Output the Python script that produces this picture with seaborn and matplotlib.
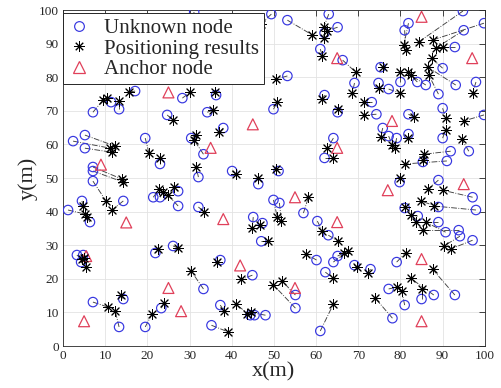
import matplotlib
matplotlib.use("Agg")
import matplotlib.pyplot as plt
from matplotlib.lines import Line2D
import seaborn as sns

# unknown nodes (true positions)
unknown_x = [7.1, 11.4, 13.3, 17.1, 24.7, 28.3, 36.3, 34.2, 31.1, 49.4, 53.2, 63.0, 65.1, 62.0, 61.0,
             66.3, 53.2, 69.1, 74.8, 49.9, 62.0, 65.1, 74.3, 73.2, 75.3, 94.8, 99.8, 95.0, 81.9, 81.0,
             92.9, 90.0, 80.0, 84.0, 86.0, 93.1, 89.0, 97.9, 77.2, 90.0, 81.9, 99.8, 75.8, 77.2, 79.1,
             81.9, 90.0, 96.2, 91.9, 85.3, 91.0, 79.8, 89.0, 97.1, 89.0, 97.9, 81.0, 84.1, 89.0, 90.7,
             93.8, 94.1, 97.1, 79.1, 92.9, 87.9, 85.0, 77.2, 81.0, 78.1, 64.1, 62.0, 51.1, 57.0, 49.9,
             51.3, 60.3, 62.9, 60.1, 64.1, 65.1, 62.2, 69.1, 72.9, 55.1, 55.1, 61.0, 38.0, 30.4, 33.3,
             32.1, 40.1, 46.3, 27.3, 27.3, 32.1, 45.1, 47.3, 2.4, 5.2, 5.2, 19.5, 23.0, 7.1, 7.1,
             7.1, 14.3, 1.2, 4.5, 6.4, 21.4, 23.0, 3.3, 4.8, 4.3, 21.9, 26.1, 7.1, 13.3, 14.3,
             19.5, 23.3, 47.0, 37.3, 44.9, 33.3, 37.3, 44.4, 45.4, 48.0, 35.2]
unknown_y = [69.6, 72.6, 70.5, 75.9, 68.8, 73.8, 74.7, 69.6, 99.4, 98.8, 97.0, 98.8, 94.9, 93.2, 88.4,
             85.1, 80.4, 78.3, 78.3, 70.5, 74.7, 69.6, 69.0, 72.6, 83.0, 99.7, 96.1, 94.0, 96.1, 94.0,
             89.0, 82.7, 78.6, 78.6, 77.7, 77.7, 75.0, 78.6, 76.5, 70.8, 69.0, 68.8, 64.9, 62.5, 61.9,
             63.1, 61.9, 58.0, 58.0, 54.8, 55.1, 48.8, 49.4, 44.3, 41.4, 40.5, 41.1, 38.7, 36.9, 33.9,
             34.5, 32.7, 31.5, 25.0, 15.2, 15.2, 14.0, 17.0, 12.2, 8.3, 61.9, 56.0, 52.1, 39.6, 43.5,
             42.6, 37.2, 33.0, 25.6, 25.0, 26.8, 22.0, 24.1, 22.9, 15.2, 11.3, 4.5, 64.9, 61.9, 57.1,
             50.3, 52.1, 48.2, 46.1, 41.7, 41.4, 38.4, 36.6, 61.0, 62.8, 58.9, 61.9, 54.2, 53.3, 52.1,
             49.1, 43.2, 40.5, 43.2, 36.9, 44.3, 44.3, 27.1, 27.1, 25.0, 27.7, 29.8, 13.1, 5.7, 14.0,
             5.7, 11.3, 31.2, 25.6, 21.1, 17.0, 12.2, 9.2, 9.2, 9.2, 6.2]

# positioning results (estimated positions), same order as unknown nodes
est_x = [9.5, 10.5, 13.3, 15.7, 26.0, 30.2, 36.1, 35.6, 30.0, 47.0, 59.1, 61.8, 62.5, 61.8, 61.5,
         69.4, 50.6, 68.6, 74.8, 50.8, 61.5, 65.1, 71.3, 71.3, 75.8, 84.3, 87.6, 88.4, 80.8, 81.2,
         90.0, 87.4, 80.0, 81.7, 82.4, 86.5, 86.7, 97.1, 79.8, 90.7, 83.1, 95.0, 75.3, 78.1, 78.6,
         81.9, 90.7, 94.5, 85.5, 85.3, 81.0, 79.8, 86.5, 90.0, 84.8, 87.9, 81.0, 82.4, 83.8, 86.0,
         85.3, 90.3, 91.9, 81.2, 87.6, 82.4, 85.0, 79.3, 80.3, 74.0, 62.7, 64.1, 50.4, 58.2, 50.8,
         51.8, 61.5, 65.3, 57.7, 66.7, 67.5, 64.1, 69.6, 72.2, 52.0, 49.9, 64.1, 37.1, 31.6, 31.1,
         31.6, 40.9, 46.3, 26.4, 24.9, 33.5, 44.9, 46.8, 11.2, 12.4, 11.6, 20.4, 23.0, 14.0, 14.3,
         10.2, 11.6, 5.2, 4.8, 5.7, 22.8, 23.8, 4.5, 5.0, 5.5, 22.6, 27.3, 10.7, 12.4, 13.8,
         21.1, 24.0, 48.5, 36.6, 42.3, 30.4, 38.2, 40.9, 43.7, 44.5, 39.2]
est_y = [73.2, 73.8, 72.9, 75.6, 67.3, 75.6, 75.6, 70.2, 96.0, 96.0, 92.6, 94.9, 93.8, 91.7, 86.3,
         81.5, 79.5, 75.3, 76.8, 72.6, 73.5, 70.5, 68.8, 72.6, 83.0, 90.5, 91.1, 88.7, 89.6, 88.1,
         89.0, 85.7, 81.5, 81.5, 80.7, 83.0, 80.7, 75.3, 75.3, 67.9, 68.2, 67.0, 62.3, 59.8, 58.9,
         61.9, 64.3, 61.6, 57.1, 55.4, 54.2, 50.0, 46.7, 46.4, 43.2, 41.7, 41.4, 39.0, 36.9, 36.9,
         34.5, 29.8, 28.9, 27.7, 22.9, 20.2, 17.0, 17.6, 16.4, 14.3, 58.9, 56.0, 52.7, 44.3, 38.4,
         37.2, 34.2, 31.2, 27.4, 27.7, 28.3, 20.2, 23.5, 21.7, 19.3, 18.2, 12.5, 63.7, 62.8, 61.3,
         53.3, 51.2, 50.0, 47.3, 44.9, 39.9, 35.1, 36.0, 58.9, 59.5, 57.7, 57.4, 56.0, 49.7, 48.8,
         43.2, 40.5, 39.3, 41.6, 38.4, 46.7, 45.8, 25.8, 26.2, 23.5, 28.9, 29.2, 11.6, 10.4, 15.2,
         9.5, 12.8, 31.2, 25.0, 19.9, 22.3, 10.4, 12.5, 9.5, 10.0, 4.2]

# anchor nodes
anchor_x = [85, 97, 65, 25, 45, 78, 9, 35, 65, 15, 38, 55, 65, 95, 77, 5.5, 25, 5, 42, 28, 55, 85, 85]
anchor_y = [98, 85.7, 85.7, 75.5, 66, 67, 54, 59, 59, 36.8, 37.8, 44.3, 36.9, 48.2, 46.4, 26.8,
            17.3, 7.4, 24, 10.4, 17.3, 25.9, 7.4]

sns.set_style("white")
plt.rcParams['font.family'] = ['Liberation Serif', 'DejaVu Serif']

fig = plt.figure(figsize=(5.01, 3.88), dpi=100)
ax = fig.add_axes([0.1257, 0.108, 0.842, 0.866])

# dash-dot links between true and estimated positions
for ux, uy, ex, ey in zip(unknown_x, unknown_y, est_x, est_y):
    ax.plot([ux, ex], [uy, ey], ls='-.', color='#404040', lw=0.65, zorder=2)

blue = '#3636e0'
red = '#e0405a'
star = (8, 2, 0)

sns.scatterplot(x=unknown_x, y=unknown_y, ax=ax, marker='o', s=46,
                facecolors='none', edgecolors=blue, linewidth=0.85, zorder=3)
sns.scatterplot(x=est_x, y=est_y, ax=ax, marker=star, s=52,
                color='k', linewidth=0.7, zorder=4)
sns.scatterplot(x=anchor_x, y=anchor_y, ax=ax, marker='^', s=62,
                facecolors='none', edgecolors=red, linewidth=0.9, zorder=3)

ax.set_xlim(0, 100)
ax.set_ylim(0, 100)
ax.set_xticks(range(0, 101, 10))
ax.set_yticks(range(0, 101, 10))
ax.grid(True, color='#e3e3e3', lw=0.6)
ax.set_axisbelow(True)
for sp in ax.spines.values():
    sp.set_color('#262626')
    sp.set_linewidth(0.6)
ax.tick_params(direction='in', length=4, width=0.6, top=True, right=True,
               labelsize=9.5, colors='#262626', pad=3)
ax.set_xlabel('x(m)', fontsize=16, labelpad=0)
ax.set_ylabel('y(m)', fontsize=16, labelpad=1)

handles = [
    Line2D([], [], ls='none', marker='o', ms=7, mfc='none', mec=blue, mew=0.85),
    Line2D([], [], ls='none', marker=star, ms=7.5, color='k', mew=0.7),
    Line2D([], [], ls='none', marker='^', ms=8, mfc='none', mec=red, mew=0.9),
]
leg = ax.legend(handles, ['Unknown node', 'Positioning results', 'Anchor node'],
                loc='upper left', bbox_to_anchor=(0.0, 0.991), borderaxespad=0,
                fontsize=15, labelspacing=0.05, handlelength=1.0, handletextpad=0.7,
                borderpad=0.25, fancybox=False, framealpha=1, edgecolor='#262626')
leg.get_frame().set_linewidth(0.7)
leg.set_zorder(10)

fig.savefig('out.png', dpi=100)
